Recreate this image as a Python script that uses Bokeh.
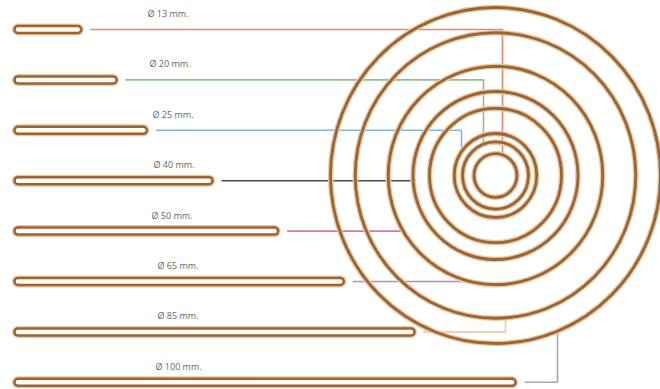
import numpy as np
from bokeh.plotting import figure
from bokeh.models import Range1d, ColumnDataSource
from bokeh.embed import file_html
from bokeh.resources import INLINE
from bokeh.core.properties import value

# ---- data ----
diameters = [13, 20, 25, 40, 50, 65, 85, 100]          # mm
bar_lengths = [14, 21, 27, 40, 53, 66, 80, 100]         # strip length, relative units
labels = ["Ø 13 mm.", "Ø 20 mm.", "Ø 25 mm.", "Ø 40 mm.",
          "Ø 50 mm.", "Ø 65 mm.", "Ø 85 mm.", "Ø 100 mm."]
connector_colors = ["#e9836f", "#8fc08c", "#86b4e0", "#4d4d4d",
                    "#e8709f", "#b58ac6", "#f5c89e", "#a8a8b4"]

# ---- layout / style ----
CX, CY = 495.0, 175.0          # ring centre
RX, RY = 1.65, 1.68            # ring semi-axis per mm of diameter
BAR_X0, BAR_SCALE = 12.0, 5.05
Y0, DY = 29.0, 50.4
HALO, BROWN, CORE = "#e7c8a3", "#9a6534", "#fffaf2"
label_x = [147, 149, 152, 153, 151, 157, 157, 155]

kinds = ["down", "down", "down", "h", "h", "h", "up", "up"]
offsets = [7, -12, -34, None, None, None, 10, 62]
targets = [0, 1, 2, 4, 5, 5, 6, 7]

p = figure(width=660, height=389,
           x_range=Range1d(0, 660), y_range=Range1d(389, 0),
           output_backend="svg", toolbar_location=None,
           x_axis_location=None, y_axis_location=None,
           min_border=0, outline_line_color=None)
p.grid.visible = False
p.background_fill_color = "white"
p.border_fill_color = "white"

n = len(diameters)
bar_y = [Y0 + i * DY for i in range(n)]
bar_end = [BAR_X0 + L * BAR_SCALE for L in bar_lengths]

# ---- connectors ----
xs, ys = [], []
for i in range(n):
    y = bar_y[i]
    x_start = bar_end[i] + 7
    t = targets[i]
    a, b = RX * diameters[t], RY * diameters[t]
    if kinds[i] == "h":
        dy = y - CY
        dx = a * np.sqrt(max(0.0, 1 - (dy / b) ** 2))
        xs.append([x_start, CX - dx])
        ys.append([y, y])
    else:
        xe = CX + offsets[i]
        dyr = b * np.sqrt(max(0.0, 1 - ((xe - CX) / a) ** 2))
        ye = CY - dyr if kinds[i] == "down" else CY + dyr
        xs.append([x_start, xe, xe])
        ys.append([y, y, ye])
p.multi_line(xs=xs, ys=ys, line_color=connector_colors, line_width=1.6)

# ---- rings ----
ring_src = ColumnDataSource(dict(
    x=[CX] * n, y=[CY] * n,
    w=[2 * RX * d for d in diameters],
    h=[2 * RY * d for d in diameters]))
p.ellipse(x="x", y="y", width="w", height="h", source=ring_src,
          fill_color=None, line_color=HALO, line_width=5.5)
p.ellipse(x="x", y="y", width="w", height="h", source=ring_src,
          fill_color=None, line_color=BROWN, line_width=2.8)

# ---- bars (capsules) ----
bar_src = ColumnDataSource(dict(
    x0=[BAR_X0 + 5.5] * n, x1=[e - 5.5 for e in bar_end], y=bar_y))
p.segment(x0="x0", y0="y", x1="x1", y1="y", source=bar_src,
          line_color=HALO, line_width=12, line_cap="round")
p.segment(x0="x0", y0="y", x1="x1", y1="y", source=bar_src,
          line_color=BROWN, line_width=9.5, line_cap="round")
p.segment(x0="x0", y0="y", x1="x1", y1="y", source=bar_src,
          line_color=CORE, line_width=4.5, line_cap="round")

# ---- labels ----
lab_src = ColumnDataSource(dict(x=label_x, y=[y - 16 for y in bar_y], t=labels))
p.text(x="x", y="y", text="t", source=lab_src,
       text_font=value("Open Sans"), text_font_size="9px",
       text_color="#666666", text_align="left", text_baseline="middle")

open("out.html", "w").write(file_html(p, INLINE))
